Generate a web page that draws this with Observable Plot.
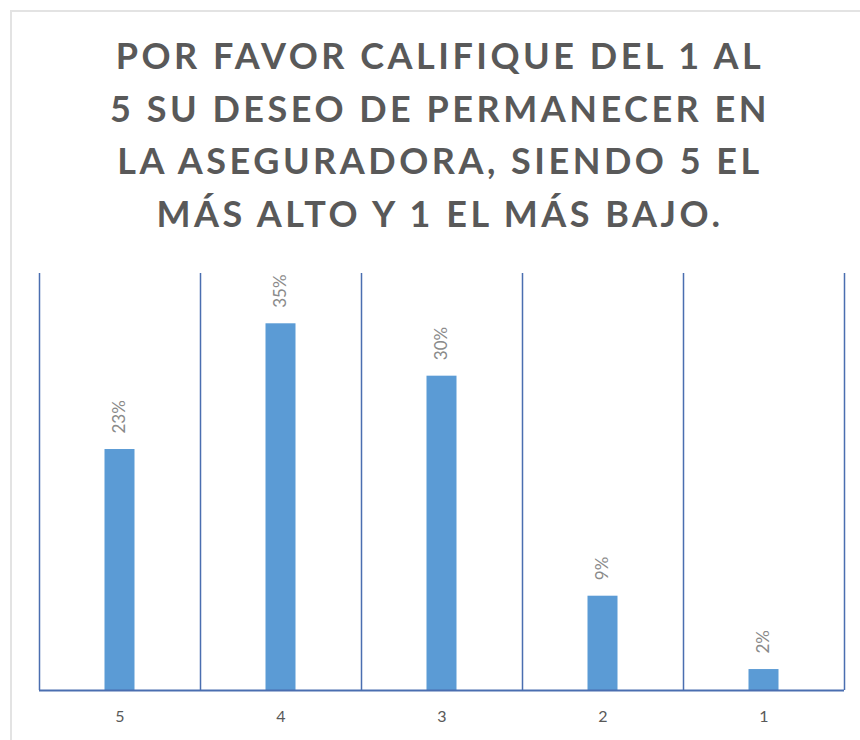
<!DOCTYPE html>
<html>
<head>
<meta charset="utf-8">
<script src="https://cdn.jsdelivr.net/npm/d3@7"></script>
<script src="https://cdn.jsdelivr.net/npm/@observablehq/plot@0.6"></script>
<style>
  html, body { margin: 0; padding: 0; background: #fff; width: 860px; height: 740px; overflow: hidden; }
  #frame { position: absolute; left: 10px; top: 10px; width: 880px; height: 760px; border-left: 2px solid #e3e3e3; border-top: 2px solid #e3e3e3; }
  #title { position: absolute; left: 10px; top: 29px; width: 860px; text-align: center;
    font-family: Lato, "Open Sans", sans-serif; font-weight: bold; font-size: 36px; line-height: 52.5px;
    letter-spacing: 3.5px; color: #595959; }
  #chart { position: absolute; left: 0; top: 250px; }
</style>
</head>
<body>
<div id="frame"></div>
<div id="title">
  <div>POR FAVOR CALIFIQUE DEL 1 AL</div>
  <div>5 SU DESEO DE PERMANECER EN</div>
  <div>LA ASEGURADORA, SIENDO 5 EL</div>
  <div>MÁS ALTO Y 1 EL MÁS BAJO.</div>
</div>
<div id="chart"></div>
<script>
const categories = ["5", "4", "3", "2", "1"];
const values = [23, 35, 30, 9, 2];
const valueLabels = ["23%", "35%", "30%", "9%", "2%"];

const rows = categories.map((c, i) => ({cat: c, i, v: values[i], label: valueLabels[i]}));
const boundaries = d3.range(categories.length + 1);
const lineColor = "#4A6EB0";

const chart = Plot.plot({
  width: 860,
  height: 490,
  marginTop: 23,
  marginBottom: 50,
  marginLeft: 39,
  marginRight: 16,
  style: {fontFamily: "Lato, 'Open Sans', sans-serif", background: "transparent"},
  x: {domain: [0, categories.length], axis: null},
  y: {domain: [0, 39.8], axis: null},
  marks: [
    Plot.rectY(rows, {x1: d => d.i, x2: d => d.i + 1, y1: 0, y2: "v", insetLeft: 65.5, insetRight: 65.5, fill: "#5B9BD5"}),
    Plot.ruleX(boundaries, {x: d => d, stroke: lineColor, strokeWidth: 1.5}),
    Plot.ruleY([0], {stroke: lineColor, strokeWidth: 2}),
    Plot.text(rows, {x: d => d.i + 0.5, y: "v", text: "label", rotate: -90, textAnchor: "start", lineAnchor: "middle", dy: -16, fontSize: 17, fill: "#8a8a8a"}),
    Plot.axisX({ticks: rows.map(d => d.i + 0.5), tickFormat: t => categories[Math.round(t - 0.5)], tickSize: 0, tickPadding: 20, fontSize: 16, color: "#595959"})
  ]
});
document.getElementById("chart").appendChild(chart);
</script>
</body>
</html>
